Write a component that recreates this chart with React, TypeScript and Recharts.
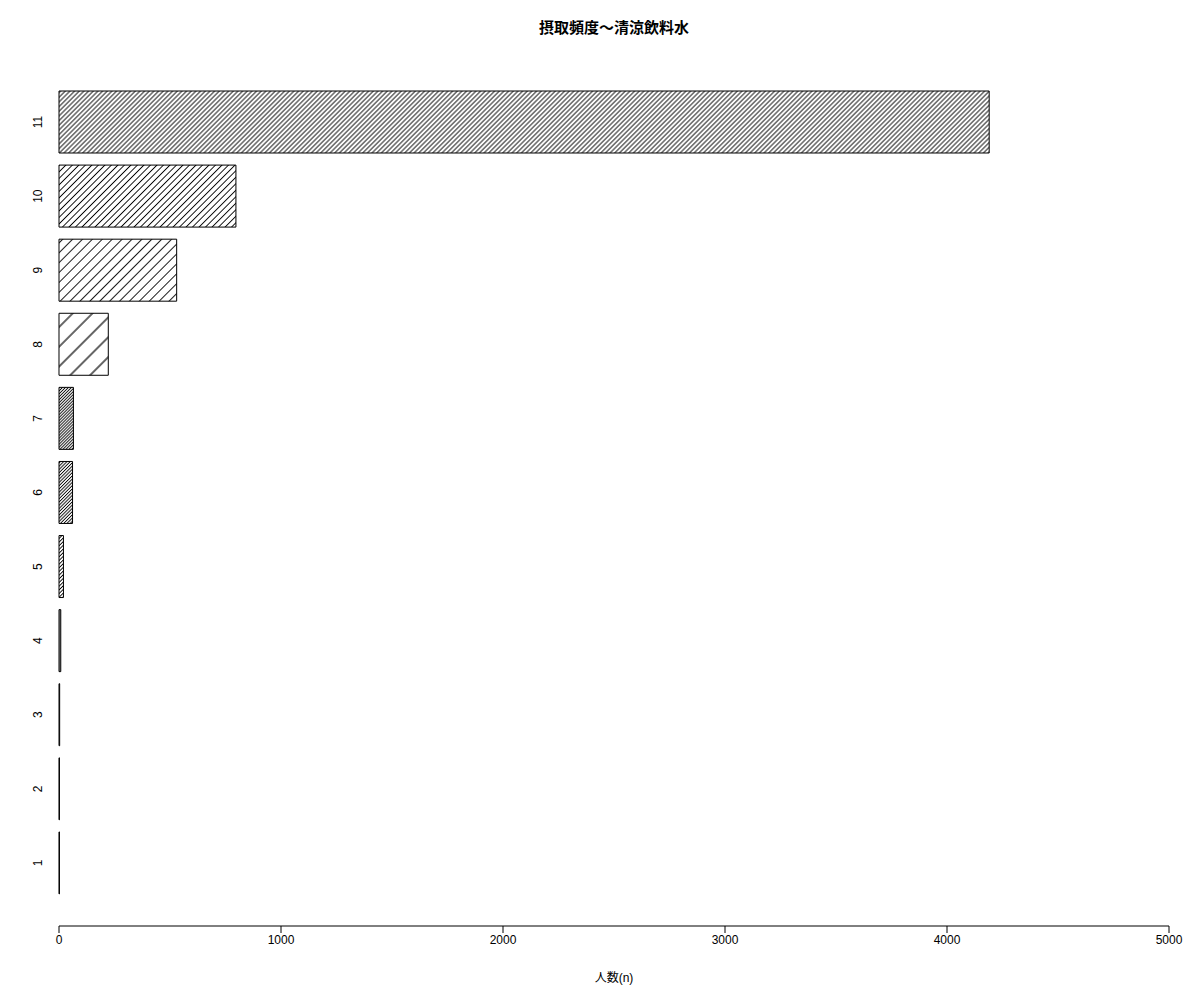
import { Bar, BarChart, Cell, XAxis, YAxis } from "recharts";

const categories = ["1", "2", "3", "4", "5", "6", "7", "8", "9", "10", "11"];
const counts = [2, 2, 3, 8, 20, 61, 65, 222, 530, 797, 4190];
const xTicks = [0, 1000, 2000, 3000, 4000, 5000];

// hatch line spacing (perpendicular, px) for each bar
const HATCH = [2, 2, 2, 2, 2.6, 2.3, 2.1, 14, 7, 4.6, 3.3];

const FONT = '"Liberation Sans", Arial, "Noto Sans CJK JP", sans-serif';

const data = categories.map((name, i) => ({ name, value: counts[i] }));

function YTick({ y, payload }: any) {
  return (
    <text
      x={38}
      y={y}
      transform={`rotate(-90 38 ${y})`}
      textAnchor="middle"
      dominantBaseline="central"
      fontSize={12}
      fontFamily={FONT}
      fill="#000"
    >
      {payload.value}
    </text>
  );
}

export default function App() {
  return (
    <div style={{ position: "absolute", left: 0, top: 0, width: 1200, height: 1000, background: "#fff" }}>
      <div
        style={{
          position: "absolute",
          left: 59,
          width: 1110,
          top: 19,
          lineHeight: "18px",
          textAlign: "center",
          fontFamily: FONT,
          fontWeight: "bold",
          fontSize: 15,
          color: "#000",
        }}
      >
        摂取頻度～清涼飲料水
      </div>
      <BarChart
        width={1200}
        height={1000}
        data={data}
        layout="vertical"
        margin={{ top: 59, right: 31, bottom: 0, left: 0 }}
        barSize={62}
      >
        <defs>
          {HATCH.map((s, i) => (
            <pattern
              key={i}
              id={`hatch-${i}`}
              patternUnits="userSpaceOnUse"
              width={s}
              height={s}
              patternTransform="rotate(45)"
            >
              <line x1={s / 2} y1={0} x2={s / 2} y2={s} stroke="#000" strokeWidth={s > 10 ? 1.2 : 0.9} />
            </pattern>
          ))}
        </defs>
        <XAxis
          type="number"
          domain={[0, 5000]}
          ticks={xTicks}
          height={74}
          tickSize={7}
          axisLine={{ stroke: "#000" }}
          tickLine={{ stroke: "#000" }}
          tick={{ fill: "#000", fontSize: 12, fontFamily: FONT }}
          interval={0}
          label={{
            value: "人数(n)",
            position: "insideBottom",
            offset: 18,
            fill: "#000",
            fontSize: 12,
            fontFamily: FONT,
          }}
        />
        <YAxis
          type="category"
          dataKey="name"
          reversed
          width={59}
          axisLine={false}
          tickLine={false}
          padding={{ top: 26, bottom: 26 }}
          tick={<YTick />}
          interval={0}
        />
        <Bar dataKey="value" isAnimationActive={false} stroke="#000" strokeWidth={1}>
          {data.map((_, i) => (
            <Cell key={i} fill={`url(#hatch-${i})`} />
          ))}
        </Bar>
      </BarChart>
    </div>
  );
}
